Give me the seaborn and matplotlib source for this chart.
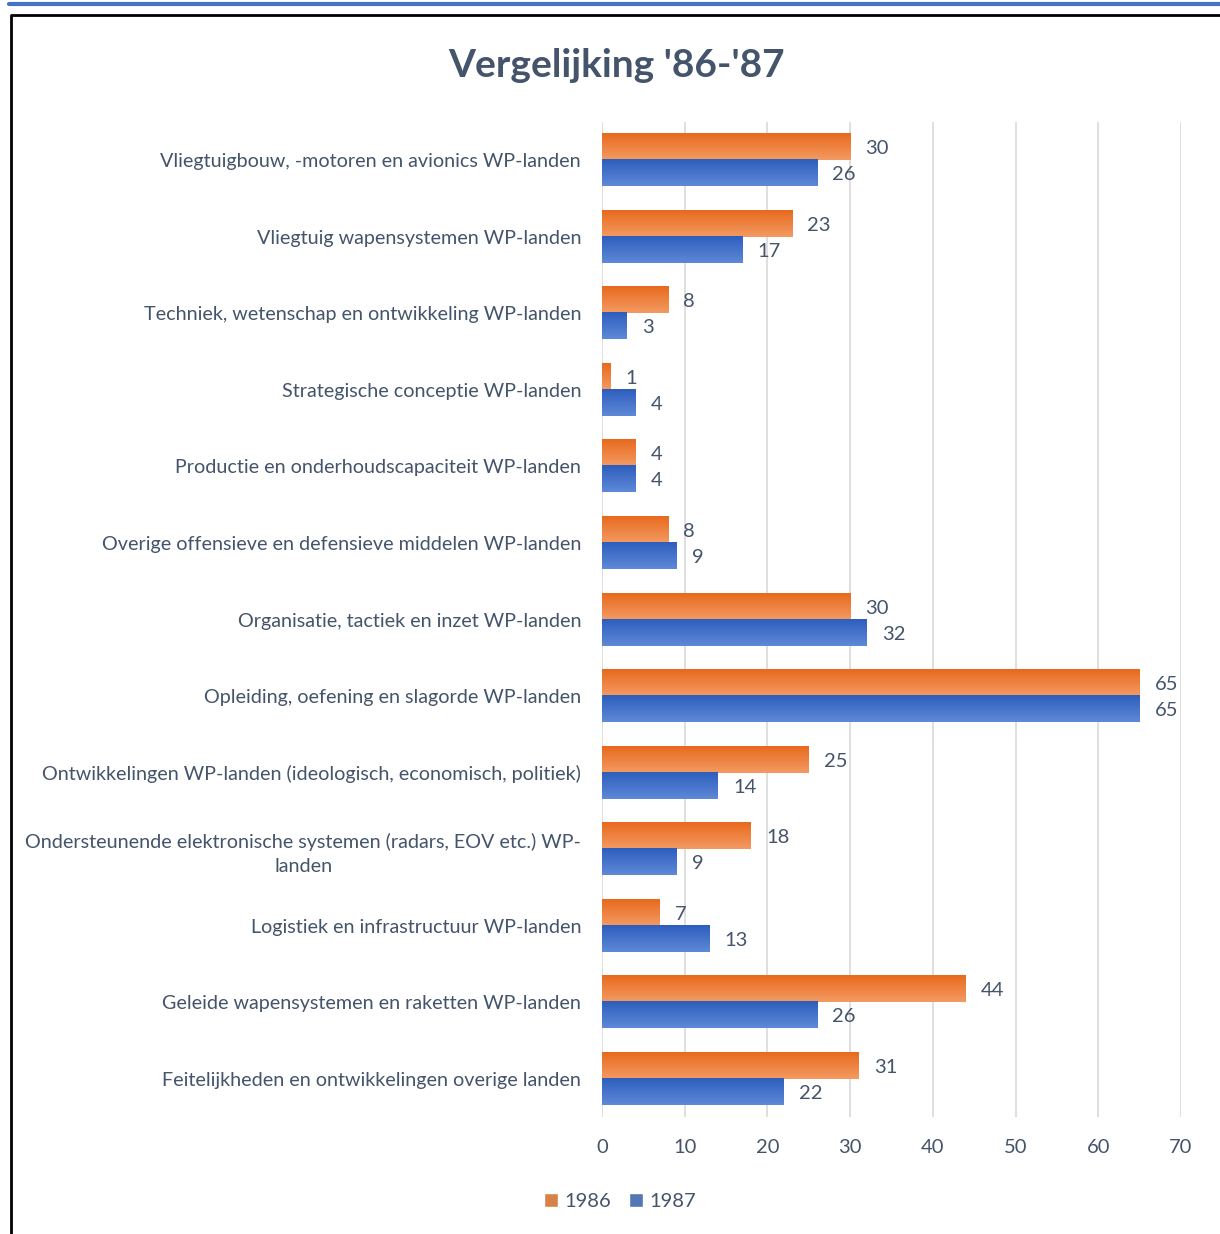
import pandas as pd
import numpy as np
import matplotlib
matplotlib.use("Agg")
import matplotlib.pyplot as plt
from matplotlib.colors import LinearSegmentedColormap
import seaborn as sns

categories = [
    "Vliegtuigbouw, -motoren en avionics WP-landen",
    "Vliegtuig wapensystemen WP-landen",
    "Techniek, wetenschap en ontwikkeling WP-landen",
    "Strategische conceptie WP-landen",
    "Productie en onderhoudscapaciteit WP-landen",
    "Overige offensieve en defensieve middelen WP-landen",
    "Organisatie, tactiek en inzet WP-landen",
    "Opleiding, oefening en slagorde WP-landen",
    "Ontwikkelingen WP-landen (ideologisch, economisch, politiek)",
    "Ondersteunende elektronische systemen (radars, EOV etc.) WP-\nlanden",
    "Logistiek en infrastructuur WP-landen",
    "Geleide wapensystemen en raketten WP-landen",
    "Feitelijkheden en ontwikkelingen overige landen",
]
values_1986 = [30, 23, 8, 1, 4, 8, 30, 65, 25, 18, 7, 44, 31]
values_1987 = [26, 17, 3, 4, 4, 9, 32, 65, 14, 9, 13, 26, 22]
series = ["1986", "1987"]

df = pd.DataFrame({
    "categorie": categories * 2,
    "waarde": values_1986 + values_1987,
    "jaar": ["1986"] * len(categories) + ["1987"] * len(categories),
})

text_col = "#44546A"
orange = "#ED7D31"
blue = "#4472C4"

sns.set_theme(style="white")
plt.rcParams["font.family"] = ["Lato", "DejaVu Sans"]

fig = plt.figure(figsize=(12.2, 12.34), dpi=100)
ax = fig.add_axes([0.4934, 0.0948, 0.4746, 0.8063])

sns.barplot(data=df, y="categorie", x="waarde", hue="jaar", orient="h",
            palette=[orange, blue], width=0.68, ax=ax, legend=True)

# gradient fill like the original
grads = {
    orange: LinearSegmentedColormap.from_list("o", ["#F39A62", "#E86A1E"]),
    blue: LinearSegmentedColormap.from_list("b", ["#5E89D8", "#2E5EBD"]),
}
for cont, col in zip(ax.containers, [orange, blue]):
    for bar in cont:
        x0, y0 = bar.get_x(), bar.get_y()
        w, h = bar.get_width(), bar.get_height()
        bar.set_alpha(0)
        ax.imshow(np.linspace(0, 1, 50).reshape(-1, 1), cmap=grads[col],
                  extent=[x0, x0 + w, y0, y0 + h], aspect="auto", zorder=2)
    labs = ax.bar_label(cont, padding=11, fontsize=14.5, color=text_col)
    for t in labs:
        t.set_va("center_baseline")

ax.set_xlim(0, 70)
ax.set_ylim(len(categories) - 0.5, -0.5)
ax.set_xticks(range(0, 71, 10))
ax.grid(axis="x", color="#D9D9D9", linewidth=1.2, zorder=0)
ax.set_axisbelow(True)
for s in ax.spines.values():
    s.set_visible(False)
ax.set_xlabel("")
ax.set_ylabel("")
ax.tick_params(axis="x", labelsize=14.5, labelcolor=text_col, pad=16, length=0)
ax.tick_params(axis="y", labelsize=14.2, labelcolor=text_col, pad=15, length=0)
for lab in ax.get_yticklabels():
    lab.set_multialignment("center")
    lab.set_linespacing(1.5)

handles, labels = ax.get_legend_handles_labels()
ax.legend_.remove()
fig.legend(handles, labels, loc="center", bbox_to_anchor=(0.508, 0.0265), ncol=2,
           frameon=False, fontsize=14.5, labelcolor=text_col, handlelength=0.7,
           handleheight=0.7, handletextpad=0.3, columnspacing=0.9)

fig.text(0.505, 0.947, "Vergelijking '86-'87", ha="center", va="center",
         fontsize=28, fontweight="bold", color=text_col)

# page decorations
fig.add_artist(plt.Line2D([0.007, 1], [0.997, 0.997], color="#4472C4", lw=3))
fig.add_artist(plt.Line2D([0.009, 0.009, 1], [0, 0.988, 0.988], color="black", lw=2))

fig.savefig("out.png", dpi=100)
